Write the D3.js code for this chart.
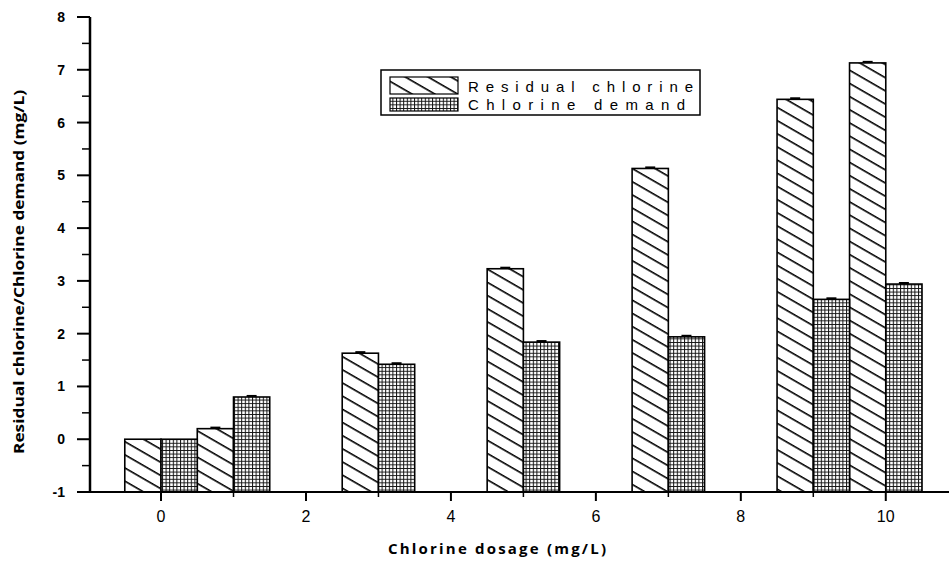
<!DOCTYPE html>
<html>
<head>
<meta charset="utf-8">
<script src="https://cdn.jsdelivr.net/npm/d3@7"></script>
<style>
  body { margin: 0; background: #fff; }
  svg { display: block; }
</style>
</head>
<body>
<svg id="chart" width="949" height="564"></svg>
<script>
// chlorine dosage (mg/L) for each pair of bars
const dosage = [0, 1, 3, 5, 7, 9, 10];
const residual = [0, 0.2, 1.63, 3.23, 5.13, 6.44, 7.13];
const demand = [0, 0.8, 1.42, 1.84, 1.94, 2.65, 2.94];
const residualErr = [0, 0.02, 0.02, 0.02, 0.02, 0.02, 0.02];
const demandErr = [0, 0.02, 0.02, 0.02, 0.02, 0.02, 0.02];
const xTicks = [0, 2, 4, 6, 8, 10];
const xMinor = [1, 3, 5, 7, 9];
const yTicks = [-1, 0, 1, 2, 3, 4, 5, 6, 7, 8];
const yMinor = [-0.5, 0.5, 1.5, 2.5, 3.5, 4.5, 5.5, 6.5, 7.5];
const seriesNames = ["Residual chlorine", "Chlorine demand"];

const svg = d3.select("#chart");

const x = d3.scaleLinear().domain([-0.98, 10.9]).range([90, 951]);
const y = d3.scaleLinear().domain([-1, 8]).range([492, 17]);
const barW = x(0.5) - x(0);

// patterns
const defs = svg.append("defs");
const hatch = defs.append("pattern")
    .attr("id", "hatch")
    .attr("patternUnits", "userSpaceOnUse")
    .attr("width", 10)
    .attr("height", 11.4)
    .attr("patternTransform", "rotate(30)");
hatch.append("rect").attr("width", 10).attr("height", 11.4).attr("fill", "#fff");
hatch.append("line")
    .attr("x1", 0).attr("x2", 10).attr("y1", 0.8).attr("y2", 0.8)
    .attr("stroke", "#000").attr("stroke-width", 1.6);

const grid = defs.append("pattern")
    .attr("id", "grid")
    .attr("patternUnits", "userSpaceOnUse")
    .attr("width", 3.6)
    .attr("height", 3.6);
grid.append("rect").attr("width", 3.6).attr("height", 3.6).attr("fill", "#fff");
grid.append("path")
    .attr("d", "M0 0.5 H3.6 M0.5 0 V3.6")
    .attr("stroke", "#111").attr("stroke-width", 1)
    .attr("fill", "none");

// bars (drawn up from the bottom of the axis, y = -1)
const bars = svg.append("g");
bars.selectAll("rect.res")
    .data(dosage)
    .enter()
    .append("rect")
    .attr("class", "res")
    .attr("x", d => x(d) - barW)
    .attr("width", barW)
    .attr("y", (d, i) => y(residual[i]))
    .attr("height", (d, i) => y(-1) - y(residual[i]))
    .attr("fill", "url(#hatch)")
    .attr("stroke", "#000")
    .attr("stroke-width", 1.6);

bars.selectAll("rect.dem")
    .data(dosage)
    .enter()
    .append("rect")
    .attr("class", "dem")
    .attr("x", d => x(d))
    .attr("width", barW)
    .attr("y", (d, i) => y(demand[i]))
    .attr("height", (d, i) => y(-1) - y(demand[i]))
    .attr("fill", "url(#grid)")
    .attr("stroke", "#000")
    .attr("stroke-width", 1.6);

// small error caps
const errs = svg.append("g").attr("stroke", "#000").attr("stroke-width", 2);
dosage.forEach((d, i) => {
    if (residualErr[i] > 0) {
        const cx = x(d) - barW / 2;
        errs.append("line")
            .attr("x1", cx - 5).attr("x2", cx + 5)
            .attr("y1", y(residual[i] + residualErr[i])).attr("y2", y(residual[i] + residualErr[i]));
    }
    if (demandErr[i] > 0) {
        const cx = x(d) + barW / 2;
        errs.append("line")
            .attr("x1", cx - 5).attr("x2", cx + 5)
            .attr("y1", y(demand[i] + demandErr[i])).attr("y2", y(demand[i] + demandErr[i]));
    }
});

// axes
const xAxis = svg.append("g").attr("transform", `translate(0,${y(-1)})`);
xAxis.append("line")
    .attr("x1", x(-0.98)).attr("x2", 949)
    .attr("stroke", "#000").attr("stroke-width", 2);
xAxis.selectAll("line.major")
    .data(xTicks).enter().append("line")
    .attr("x1", d => x(d)).attr("x2", d => x(d))
    .attr("y1", 0).attr("y2", 9)
    .attr("stroke", "#000").attr("stroke-width", 2);
xAxis.selectAll("line.minor")
    .data(xMinor).enter().append("line")
    .attr("x1", d => x(d)).attr("x2", d => x(d))
    .attr("y1", 0).attr("y2", 5)
    .attr("stroke", "#000").attr("stroke-width", 1.5);
xAxis.selectAll("text")
    .data(xTicks).enter().append("text")
    .attr("x", d => x(d))
    .attr("y", 30)
    .attr("text-anchor", "middle")
    .attr("font-family", "Liberation Sans, Arial, sans-serif")
    .attr("font-size", 16)
    .text(d => d);

const yAxis = svg.append("g").attr("transform", `translate(${x(-0.98)},0)`);
yAxis.append("line")
    .attr("y1", y(-1)).attr("y2", y(8))
    .attr("stroke", "#000").attr("stroke-width", 2.5);
yAxis.selectAll("line.major")
    .data(yTicks).enter().append("line")
    .attr("x1", -13).attr("x2", 0)
    .attr("y1", d => y(d)).attr("y2", d => y(d))
    .attr("stroke", "#000").attr("stroke-width", 2);
yAxis.selectAll("line.minor")
    .data(yMinor).enter().append("line")
    .attr("x1", -8).attr("x2", 0)
    .attr("y1", d => y(d)).attr("y2", d => y(d))
    .attr("stroke", "#000").attr("stroke-width", 1.5);
yAxis.selectAll("text")
    .data(yTicks).enter().append("text")
    .attr("x", -25)
    .attr("y", d => y(d) + 5)
    .attr("text-anchor", "end")
    .attr("font-family", "Liberation Sans, Arial, sans-serif")
    .attr("font-weight", "bold")
    .attr("font-size", 14)
    .text(d => d);

// axis titles
svg.append("text")
    .attr("transform", "translate(24,272) rotate(-90)")
    .attr("text-anchor", "middle")
    .attr("font-family", "Open Sans, sans-serif")
    .attr("font-weight", "bold")
    .attr("font-size", 14)
    .attr("textLength", 364)
    .attr("lengthAdjust", "spacingAndGlyphs")
    .text("Residual chlorine/Chlorine demand (mg/L)");

svg.append("text")
    .attr("x", 497)
    .attr("y", 554)
    .attr("text-anchor", "middle")
    .attr("font-family", "Open Sans, sans-serif")
    .attr("font-weight", "bold")
    .attr("font-size", 15)
    .attr("textLength", 218)
    .attr("lengthAdjust", "spacing")
    .text("Chlorine dosage (mg/L)");

// legend
const legend = svg.append("g");
legend.append("rect")
    .attr("x", 381).attr("y", 70)
    .attr("width", 319).attr("height", 45)
    .attr("fill", "#fff")
    .attr("stroke", "#000").attr("stroke-width", 1.5);
const fills = ["url(#hatch)", "url(#grid)"];
const textLens = [225, 217];
const swatchY = [77, 98];
const swatchH = [17, 13];
seriesNames.forEach((name, i) => {
    legend.append("rect")
        .attr("x", 390).attr("y", swatchY[i])
        .attr("width", 68).attr("height", swatchH[i])
        .attr("fill", fills[i])
        .attr("stroke", "#000").attr("stroke-width", 1.2);
    legend.append("text")
        .attr("x", 468)
        .attr("y", 92 + i * 18)
        .attr("font-family", "Liberation Sans, Arial, sans-serif")
        .attr("font-size", 15)
        .attr("textLength", textLens[i])
        .attr("lengthAdjust", "spacing")
        .text(name);
});
</script>
</body>
</html>
